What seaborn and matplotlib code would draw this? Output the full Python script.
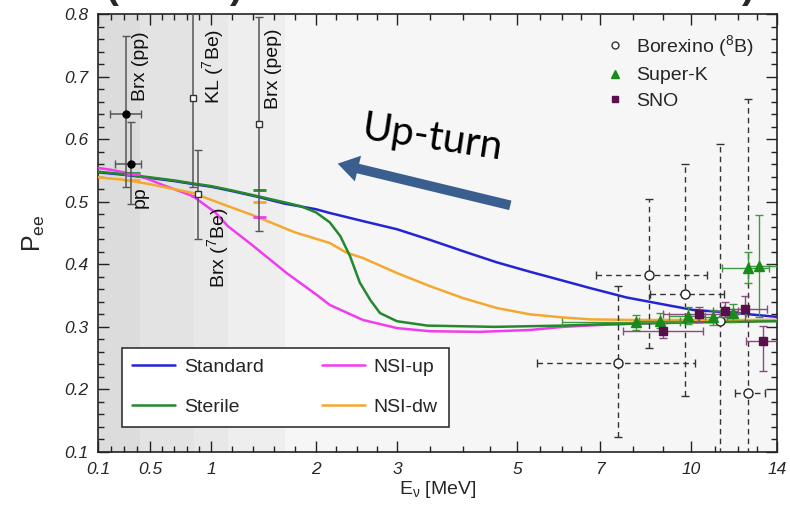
import numpy as np
import pandas as pd
import matplotlib
matplotlib.use("Agg")
import matplotlib.pyplot as plt
import seaborn as sns
from matplotlib.lines import Line2D

# ---------------- data ----------------
E_std = [0.1, 0.3, 0.5, 0.7, 0.86, 1.0, 1.2, 1.44, 1.7, 2.0, 2.17, 2.58, 3.0, 3.5, 4.0, 4.63, 5.29, 5.96, 6.74, 7.8, 9.0, 10.1, 11.6, 14.0]
P_std = [0.547, 0.543, 0.538, 0.533, 0.528, 0.524, 0.517, 0.508, 0.497, 0.488, 0.482, 0.469, 0.456, 0.439, 0.421, 0.403, 0.388, 0.375, 0.362, 0.347, 0.336, 0.327, 0.323, 0.316]

E_ster = [0.1, 0.3, 0.5, 0.7, 0.86, 1.0, 1.2, 1.44, 1.7, 1.85, 2.0, 2.17, 2.30, 2.42, 2.54, 2.67, 2.79, 3.0, 3.46, 4.58, 6.0, 7.0, 10.0, 14.0]
P_ster = [0.548, 0.544, 0.539, 0.534, 0.529, 0.525, 0.518, 0.509, 0.499, 0.493, 0.483, 0.467, 0.445, 0.413, 0.371, 0.343, 0.322, 0.309, 0.302, 0.300, 0.302, 0.304, 0.307, 0.309]

E_up = [0.1, 0.2, 0.3, 0.4, 0.5, 0.6, 0.7, 0.85, 1.04, 1.16, 1.39, 1.72, 2.01, 2.17, 2.58, 3.0, 3.5, 4.31, 5.29, 6.03, 7.0, 8.0, 10.0, 12.0, 14.0]
P_up = [0.554, 0.551, 0.547, 0.542, 0.535, 0.527, 0.520, 0.509, 0.483, 0.461, 0.431, 0.386, 0.351, 0.335, 0.311, 0.298, 0.293, 0.292, 0.295, 0.300, 0.303, 0.305, 0.308, 0.310, 0.311]

E_dw = [0.1, 0.3, 0.5, 0.7, 0.85, 1.16, 1.39, 1.8, 2.17, 2.37, 2.58, 3.0, 3.5, 4.0, 4.63, 5.29, 6.03, 6.74, 8.0, 10.0, 14.0]
P_dw = [0.539, 0.535, 0.528, 0.520, 0.514, 0.493, 0.479, 0.451, 0.434, 0.419, 0.410, 0.386, 0.365, 0.346, 0.330, 0.320, 0.315, 0.312, 0.311, 0.311, 0.311]

# flux-averaged predictions (pp, 7Be, pep)
pred_lo = [0.30, 0.84, 1.40]
pred_hi = [0.42, 0.89, 1.52]
pred_ster = [0.546, np.nan, 0.518]
pred_dw = [0.535, np.nan, 0.499]
pred_up = [0.544, 0.509, 0.475]

# low-energy Borexino pp (filled circles)
pp_E = [0.315, 0.354]
pp_P = [0.640, 0.561]
pp_xlo = [0.19, 0.23]
pp_xhi = [0.43, 0.43]
pp_ylo = [0.523, 0.497]
pp_yhi = [0.765, 0.627]

# KL 7Be, Brx 7Be, Brx pep (open squares)
sq_E = [0.85, 0.89, 1.46]
sq_P = [0.665, 0.513, 0.624]
sq_ylo = [0.523, 0.441, 0.453]
sq_yhi = [0.84, 0.582, 0.795]

# Borexino 8B
b8_E = [7.55, 8.54, 9.8, 11.2, 12.55]
b8_P = [0.243, 0.383, 0.353, 0.310, 0.194]
b8_xlo = [5.44, 6.9, 8.57, 11.2, 11.87]
b8_xhi = [10.17, 10.65, 11.4, 11.2, 13.4]
b8_ylo = [0.124, 0.266, 0.190, 0.02, 0.02]
b8_yhi = [0.365, 0.504, 0.560, 0.592, 0.664]

# Super-K
sk_E = [8.1, 8.9, 9.9, 10.9, 11.8, 12.5, 13.1]
sk_P = [0.307, 0.310, 0.318, 0.315, 0.322, 0.394, 0.398]
sk_xlo = [6.0, 8.2, 9.2, 10.3, 11.2, 11.3, 12.6]
sk_xhi = [9.6, 9.6, 10.6, 11.5, 12.4, 13.6, 14.5]
sk_ylo = [0.295, 0.298, 0.305, 0.303, 0.308, 0.370, 0.315]
sk_yhi = [0.319, 0.322, 0.331, 0.327, 0.336, 0.420, 0.478]

# SNO
sno_E = [8.99, 10.35, 11.45, 12.38, 13.3]
sno_P = [0.294, 0.320, 0.326, 0.329, 0.278]
sno_xlo = [7.7, 9.0, 10.9, 11.4, 12.4]
sno_xhi = [10.5, 11.5, 12.0, 13.5, 14.5]
sno_ylo = [0.282, 0.308, 0.315, 0.309, 0.229]
sno_yhi = [0.306, 0.332, 0.339, 0.349, 0.301]

xticks = [0.1, 0.5, 1, 2, 3, 5, 7, 10, 14]
xticklabels = ["0.1", "0.5", "1", "2", "3", "5", "7", "10", "14"]
xminor = [0.2, 0.3, 0.4, 0.6, 0.7, 0.8, 0.9, 1.2, 1.4, 1.6, 1.8, 2.25, 2.5, 2.75,
          3.5, 4, 4.5, 5.5, 6, 6.5, 8, 9, 11, 12, 13]
yticks = [0.1, 0.2, 0.3, 0.4, 0.5, 0.6, 0.7, 0.8]
yticklabels = ["0.1", "0.2", "0.3", "0.4", "0.5", "0.6", "0.7", "0.8"]

# ---------------- style ----------------
sns.set_style("ticks")
plt.rcParams["font.family"] = ["Liberation Sans", "DejaVu Sans"]
plt.rcParams["mathtext.default"] = "regular"

# custom piecewise axis scale
_sE = np.array([-100.0, 0.1, 0.5, 1, 2, 3, 4, 5, 6, 7, 8, 9, 10, 11, 12, 13, 14, 100.0])
_sP = np.array([98 - 100.1 * 130, 98, 150, 211, 316, 397, 463, 517, 562, 600, 633, 663, 691, 715, 738, 757, 777, 777 + 86 * 20.0])


def fwd(x):
    return np.interp(np.asarray(x, dtype=float), _sE, _sP)


def inv(p):
    return np.interp(np.asarray(p, dtype=float), _sP, _sE)


fig = plt.figure(figsize=(7.9, 5.05), dpi=100)
ax = fig.add_axes([98 / 790, 1 - 452 / 505, 679 / 790, 438 / 505])
ax.set_xscale("function", functions=(fwd, inv))
ax.set_xlim(0.1, 14)
ax.set_ylim(0.1, 0.8)
ax.set_facecolor("#f6f6f6")

# shaded energy bands
for lo, hi, c in [(0.1, 0.42, "#dcdcdc"), (0.42, 0.862, "#e3e3e3"),
                  (0.862, 1.16, "#e8e8e8"), (1.16, 1.7, "#eeeeee")]:
    ax.axvspan(lo, hi, color=c, lw=0, zorder=0)

colors = {"Standard": "#2424d6", "Sterile": "#24882c", "NSI-up": "#f03cf0", "NSI-dw": "#f5a830"}
df = pd.concat([
    pd.DataFrame({"E": E_std, "P": P_std, "model": "Standard"}),
    pd.DataFrame({"E": E_up, "P": P_up, "model": "NSI-up"}),
    pd.DataFrame({"E": E_dw, "P": P_dw, "model": "NSI-dw"}),
    pd.DataFrame({"E": E_ster, "P": P_ster, "model": "Sterile"}),
])
sns.lineplot(data=df, x="E", y="P", hue="model", palette=colors,
             hue_order=["Standard", "NSI-up", "NSI-dw", "Sterile"],
             estimator=None, sort=False, lw=1.8, legend=False, ax=ax, zorder=3)

ax.hlines(pred_ster, pred_lo, pred_hi, colors=colors["Sterile"], lw=2, zorder=4)
ax.hlines(pred_dw, pred_lo, pred_hi, colors=colors["NSI-dw"], lw=2, zorder=4)
ax.hlines(pred_up, pred_lo, pred_hi, colors=colors["NSI-up"], lw=2, zorder=4)

# low-energy data
ppE = np.array(pp_E); ppP = np.array(pp_P)
ax.errorbar(ppE, ppP,
            xerr=[ppE - np.array(pp_xlo), np.array(pp_xhi) - ppE],
            yerr=[ppP - np.array(pp_ylo), np.array(pp_yhi) - ppP],
            fmt="o", ms=5, color="black", ecolor="#555555", elinewidth=1.1,
            capsize=3, zorder=5)
sqE = np.array(sq_E); sqP = np.array(sq_P)
ax.errorbar(sqE, sqP, yerr=[sqP - np.array(sq_ylo), np.array(sq_yhi) - sqP],
            fmt="s", ms=5, mfc="white", mec="#333333", color="#333333",
            ecolor="#555555", elinewidth=1.1, capsize=3, zorder=5)

# Borexino 8B
bE = np.array(b8_E); bP = np.array(b8_P)
eb = ax.errorbar(bE, bP,
                 xerr=[bE - np.array(b8_xlo), np.array(b8_xhi) - bE],
                 yerr=[bP - np.array(b8_ylo), np.array(b8_yhi) - bP],
                 fmt="o", ms=6.5, mfc="white", mec="#222222", color="#222222",
                 ecolor="#333333", elinewidth=1.0, capsize=3, zorder=4)
for lc in eb[2]:
    lc.set_linestyle((0, (4, 3)))

skE = np.array(sk_E); skP = np.array(sk_P)
ax.errorbar(skE, skP,
            xerr=[skE - np.array(sk_xlo), np.array(sk_xhi) - skE],
            yerr=[skP - np.array(sk_ylo), np.array(sk_yhi) - skP],
            fmt="^", ms=6.5, color="#1a8a1a", ecolor="#3f9a3f", elinewidth=1.0,
            capsize=3, zorder=6)
snE = np.array(sno_E); snP = np.array(sno_P)
ax.errorbar(snE, snP,
            xerr=[snE - np.array(sno_xlo), np.array(sno_xhi) - snE],
            yerr=[snP - np.array(sno_ylo), np.array(sno_yhi) - snP],
            fmt="s", ms=6, color="#5b0e4c", ecolor="#8a4a7e", elinewidth=1.0,
            capsize=3, zorder=6)

# ticks
ax.set_xticks(xticks, xticklabels, fontstyle="italic", fontsize=12.5)
ax.set_xticks(xminor, minor=True)
ax.set_yticks(yticks, yticklabels, fontstyle="italic", fontsize=12.5)
ax.set_yticks(np.arange(0.12, 0.8, 0.02).round(2), minor=True)
ax.tick_params(which="both", direction="in", top=True, right=True, color="#222222")
ax.tick_params(which="major", length=8, width=1, pad=7)
ax.tick_params(which="minor", length=4.5, width=1)
for s in ax.spines.values():
    s.set_color("#222222")
    s.set_linewidth(1.2)

ax.set_xlabel(r"E$_\nu$ [MeV]", fontsize=14, labelpad=2)
ax.set_ylabel(r"P$_{ee}$", fontsize=18, labelpad=12)

# rotated labels
tk = dict(rotation=90, ha="center", va="center", fontsize=14, color="#111111", zorder=7)
ax.text(0.425, 0.716, "Brx (pp)", **tk)
ax.text(0.425, 0.508, "pp", **tk)
ax.text(1.02, 0.716, r"KL ($^7$Be)", **tk)
ax.text(1.60, 0.713, "Brx (pep)", **tk)
ax.text(1.065, 0.427, r"Brx ($^7$Be)", **tk)

# legends
h_lines = [Line2D([], [], color=colors[k], lw=1.8) for k in ["Standard", "Sterile", "NSI-up", "NSI-dw"]]
leg1 = ax.legend(h_lines, ["Standard", "Sterile", "NSI-up", "NSI-dw"], ncol=2,
                 loc="lower left", bbox_to_anchor=(0.035, 0.058), fontsize=14,
                 handlelength=2.2, handletextpad=0.45, columnspacing=3.0,
                 labelspacing=1.15, borderpad=0.55, borderaxespad=0,
                 fancybox=False, framealpha=1, edgecolor="#333333")
leg1.get_frame().set_linewidth(1.2)
ax.add_artist(leg1)

h_pts = [Line2D([], [], ls="none", marker="o", ms=5, mfc="white", mec="#333333"),
         Line2D([], [], ls="none", marker="^", ms=6, color="#1a8a1a"),
         Line2D([], [], ls="none", marker="s", ms=5, color="#5b0e4c")]
ax.legend(h_pts, [r"Borexino ($^8$B)", "Super-K", "SNO"], loc="upper left",
          bbox_to_anchor=(0.735, 0.975), frameon=False, fontsize=14,
          handlelength=1.0, handletextpad=0.6, labelspacing=0.42, borderaxespad=0)

# annotation
fig.text(432 / 790, 1 - 138 / 505, "Up-turn", fontsize=29, family="Lato",
         rotation=-8.5, ha="center", va="center", color="black")
ax.annotate("", xy=(335, 505 - 163), xycoords="figure pixels",
            xytext=(513, 505 - 206), textcoords="figure pixels",
            arrowprops=dict(arrowstyle="simple,head_length=1.5,head_width=1.9,tail_width=0.7",
                            mutation_scale=10, color="#3a5f8f", lw=0))

# cropped title fragments at the top edge (as in the source image)
for xp, ch in [(112, "("), (236, ")"), (748, ")")]:
    fig.text(xp / 790, 1.003, ch, fontsize=28, fontweight="bold", ha="center", va="baseline")

fig.savefig("out.png", dpi=100)
